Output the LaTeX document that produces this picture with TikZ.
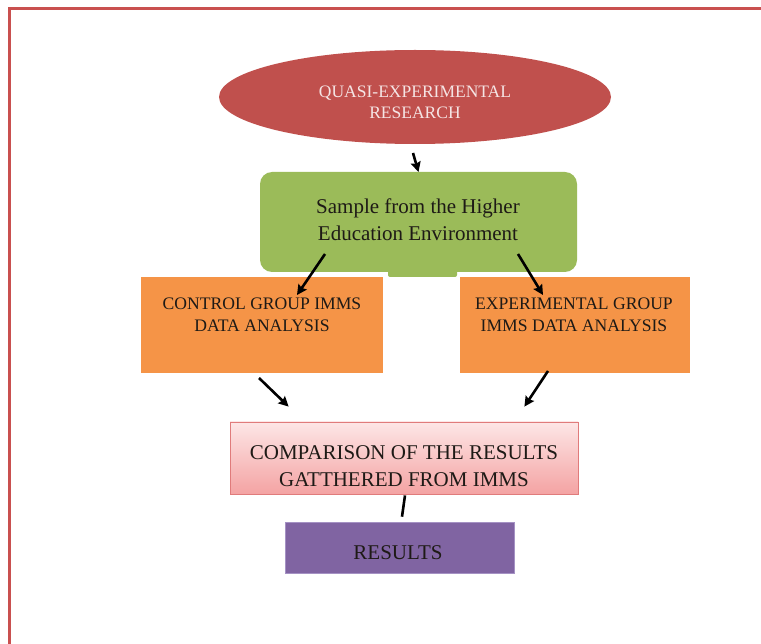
\documentclass[tikz,border=0pt]{standalone}
\usepackage{fontspec}
\setmainfont{Liberation Serif}
\usetikzlibrary{shapes.geometric,arrows.meta}

\definecolor{frameRed}{HTML}{C9504F}
\definecolor{ovalRed}{HTML}{C0504D}
\definecolor{ovalText}{HTML}{F5E4E4}
\definecolor{leafGreen}{HTML}{9BBB59}
\definecolor{boxOrange}{HTML}{F59447}
\definecolor{pinkTop}{HTML}{FDE6E6}
\definecolor{pinkBottom}{HTML}{F4A3A3}
\definecolor{pinkEdge}{HTML}{E07B7B}
\definecolor{plum}{HTML}{8064A2}
\definecolor{plumEdge}{HTML}{A592C4}
\definecolor{ink}{HTML}{1E1A16}

\tikzset{
  shapebox/.style={draw=none, inner sep=0pt, outer sep=0pt},
  bigtext/.style={font=\fontsize{21}{27}\selectfont, align=center, text=ink, inner sep=0pt},
  captext/.style={font=\fontsize{17.6}{22.5}\selectfont, align=center, text=ink, inner sep=0pt},
  arr/.style={draw=black, line width=2.6pt, -{Stealth[length=10pt,width=10pt,inset=1.5pt]}},
  bar/.style={draw=black, line width=2.6pt}
}

\begin{document}
\begin{tikzpicture}[x=1pt,y=-1pt]
\useasboundingbox (0,0) rectangle (761,644);

% outer frame (only top and left edges fall inside the page)
\draw[frameRed, line width=3pt] (9,660) -- (9,9) -- (780,9);

% top oval
\node[shapebox, ellipse, fill=ovalRed, minimum width=392pt, minimum height=94pt] (ell) at (415,97) {};
\node[captext, text=ovalText, font=\fontsize{17.5}{21}\selectfont] (elltext) at (415,102) {QUASI-EXPERIMENTAL\\RESEARCH};

% green sample box with its small lower tab
\node[shapebox, rectangle, rounded corners=12pt, fill=leafGreen, minimum width=317pt, minimum height=100pt] (green) at (418.5,222) {};
\fill[leafGreen, rounded corners=2pt] ([shift={(-30.5,-8)}]green.south) rectangle ([shift={(38.5,5)}]green.south);
\node[bigtext] (greentext) at (418,220) {Sample from the Higher\\Education Environment};

% two orange analysis boxes
\node[shapebox, rectangle, fill=boxOrange, minimum width=242pt, minimum height=96pt] (ctrl) at (262,325) {};
\node[captext] (ctrltext) at (262,315) {CONTROL GROUP IMMS\\DATA ANALYSIS};
\node[shapebox, rectangle, fill=boxOrange, minimum width=230pt, minimum height=96pt] (exp) at (575,325) {};
\node[captext] (exptext) at (574,315) {EXPERIMENTAL GROUP\\IMMS DATA ANALYSIS};

% comparison box
\node[rectangle, inner sep=0pt, draw=pinkEdge, line width=0.8pt, top color=pinkTop, bottom color=pinkBottom, minimum width=348pt, minimum height=72pt] (cmp) at (404,458) {};
\node[bigtext] (cmptext) at (404,466) {COMPARISON OF THE RESULTS\\GATTHERED FROM IMMS};

% results box
\node[rectangle, inner sep=0pt, fill=plum, draw=plumEdge, line width=0.6pt, minimum width=229pt, minimum height=51pt] (res) at (400,547.5) {};
\node[bigtext] (restext) at (398,552.5) {RESULTS};

% connectors
\draw[arr] ([shift={(-2,9)}]ell.south) -- (green.north);
\draw[arr] ([shift={(65,-18)}]green.south west) -- ([shift={(156,18)}]ctrl.north west);
\draw[arr] ([shift={(-59,-18)}]green.south east) -- ([shift={(83,18)}]exp.north west);
\draw[arr] ([shift={(118,5)}]ctrl.south west) -- ([shift={(59,-15)}]cmp.north west);
\draw[arr] ([shift={(88,-2)}]exp.south west) -- ([shift={(-54,-15)}]cmp.north east);
\draw[bar] ([shift={(1,1)}]cmp.south) -- ([shift={(2,-5)}]res.north);
\end{tikzpicture}
\end{document}
